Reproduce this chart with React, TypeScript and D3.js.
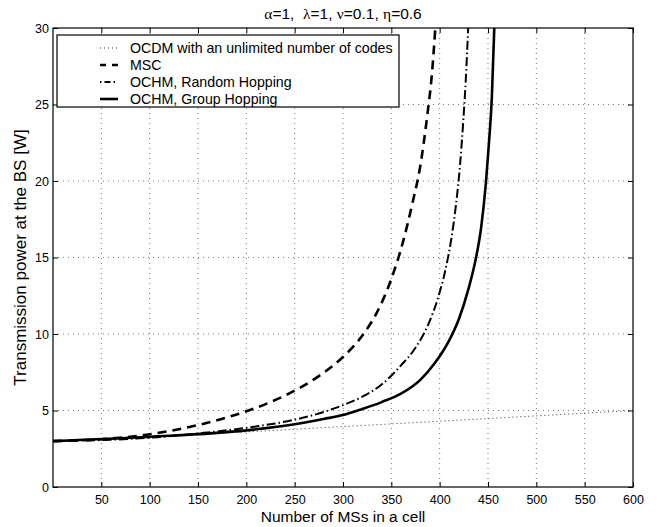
import React, { useEffect, useRef } from "react";
import * as d3 from "d3";

// axis ticks
const xTicks = [50, 100, 150, 200, 250, 300, 350, 400, 450, 500, 550, 600];
const yTicks = [0, 5, 10, 15, 20, 25, 30];

// OCDM with an unlimited number of codes
const ocdmX = [0, 100, 200, 300, 400, 500, 600];
const ocdmY = [3.0, 3.3, 3.6, 3.95, 4.3, 4.65, 5.0];

// MSC
const mscX = [0, 50, 100, 150, 200, 225, 250, 275, 300, 320, 335, 350, 362, 372, 380, 387, 392, 395.5];
const mscY = [3.0, 3.12, 3.45, 4.05, 4.95, 5.55, 6.3, 7.25, 8.5, 9.9, 11.4, 13.6, 16.0, 18.6, 21.0, 24.2, 27.0, 30];

// OCHM, Random Hopping
const rhX = [0, 100, 150, 200, 250, 280, 300, 320, 340, 360, 375, 388, 398, 406, 412, 417, 421, 424.5, 427, 429.5];
const rhY = [3.0, 3.22, 3.5, 3.87, 4.4, 4.9, 5.35, 5.9, 6.7, 7.95, 9.1, 10.6, 12.3, 14.2, 16.2, 18.5, 21.0, 24.0, 26.6, 30];

// OCHM, Group Hopping
const ghX = [0, 100, 200, 250, 280, 300, 320, 340, 360, 380, 395, 410, 420, 430, 437, 443, 448, 451, 454, 456.5];
const ghY = [3.0, 3.28, 3.7, 4.1, 4.45, 4.7, 5.1, 5.55, 6.1, 7.0, 8.1, 9.6, 11.0, 13.0, 14.8, 17.0, 20, 22.5, 25.5, 30];

const seriesNames = [
  "OCDM with an unlimited number of codes",
  "MSC",
  "OCHM, Random Hopping",
  "OCHM, Group Hopping",
];

const FONT = "'Liberation Sans', Arial, Helvetica, sans-serif";
const GREEK = "'Liberation Serif', 'DejaVu Serif', serif";

export default function App() {
  const ref = useRef<SVGSVGElement>(null);

  useEffect(() => {
    const width = 667;
    const height = 527;
    const margin = { top: 28, right: 34, bottom: 40, left: 53 };
    const innerW = width - margin.left - margin.right;
    const innerH = height - margin.top - margin.bottom;

    const svg = d3.select(ref.current);
    svg.selectAll("*").remove();

    const x = d3.scaleLinear().domain([0, 600]).range([0, innerW]);
    const y = d3.scaleLinear().domain([0, 30]).range([innerH, 0]);

    const g = svg.append("g").attr("transform", `translate(${margin.left},${margin.top})`);

    // dotted grid
    g.append("g")
      .selectAll("line")
      .data(xTicks.slice(0, -1))
      .join("line")
      .attr("x1", (d) => x(d)).attr("x2", (d) => x(d))
      .attr("y1", 0).attr("y2", innerH)
      .attr("stroke", "#777").attr("stroke-width", 1)
      .attr("stroke-dasharray", "1,4");
    g.append("g")
      .selectAll("line")
      .data(yTicks.slice(1, -1))
      .join("line")
      .attr("y1", (d) => y(d)).attr("y2", (d) => y(d))
      .attr("x1", 0).attr("x2", innerW)
      .attr("stroke", "#777").attr("stroke-width", 1)
      .attr("stroke-dasharray", "1,4");

    // curves
    svg.append("defs").append("clipPath").attr("id", "plotClip")
      .append("rect").attr("width", innerW).attr("height", innerH);

    const line = d3.line<[number, number]>()
      .x((d) => x(d[0]))
      .y((d) => y(d[1]))
      .curve(d3.curveMonotoneX);

    const styles = [
      { w: 1, dash: "1,3", legDash: "1,3", color: "#333" },
      { w: 2.6, dash: "9,6", legDash: "6,6", color: "#000" },
      { w: 2, dash: "9,3,1.5,3", legDash: "1.5,3,6,3,1.5,3", color: "#000" },
      { w: 2.6, dash: null, legDash: null, color: "#000" },
    ];
    const series: [number, number][][] = [
      ocdmX.map((v, i) => [v, ocdmY[i]]),
      mscX.map((v, i) => [v, mscY[i]]),
      rhX.map((v, i) => [v, rhY[i]]),
      ghX.map((v, i) => [v, ghY[i]]),
    ];

    const curves = g.append("g").attr("clip-path", "url(#plotClip)");
    series.forEach((s, i) => {
      curves.append("path")
        .datum(s)
        .attr("fill", "none")
        .attr("stroke", styles[i].color)
        .attr("stroke-width", styles[i].w)
        .attr("stroke-dasharray", styles[i].dash)
        .attr("d", line);
    });

    // axes box + inward ticks on all four sides
    const tickLen = 5;
    const xAxisB = d3.axisBottom(x).tickValues(xTicks).tickSizeInner(-tickLen).tickSizeOuter(0).tickPadding(8);
    const xAxisT = d3.axisTop(x).tickValues(xTicks).tickSizeInner(-tickLen).tickSizeOuter(0).tickFormat(() => "");
    const yAxisL = d3.axisLeft(y).tickValues(yTicks).tickSizeInner(-tickLen).tickSizeOuter(0).tickPadding(4);
    const yAxisR = d3.axisRight(y).tickValues(yTicks).tickSizeInner(-tickLen).tickSizeOuter(0).tickFormat(() => "");

    const axB = g.append("g").attr("transform", `translate(0,${innerH})`).call(xAxisB);
    const axT = g.append("g").call(xAxisT);
    const axL = g.append("g").call(yAxisL);
    const axR = g.append("g").attr("transform", `translate(${innerW},0)`).call(yAxisR);
    [axB, axT, axL, axR].forEach((a) => {
      a.select(".domain").remove();
      a.selectAll("line").attr("stroke", "#000");
      a.selectAll("text").attr("font-family", FONT).attr("font-size", 12.5).attr("fill", "#000");
    });

    g.append("rect")
      .attr("width", innerW).attr("height", innerH)
      .attr("fill", "none").attr("stroke", "#000").attr("stroke-width", 1.2);

    // axis labels
    svg.append("text")
      .attr("x", margin.left + innerW / 2).attr("y", 522)
      .attr("text-anchor", "middle")
      .attr("font-family", FONT).attr("font-size", 15.5)
      .text("Number of MSs in a cell");

    svg.append("text")
      .attr("transform", `translate(26,${margin.top + innerH / 2}) rotate(-90)`)
      .attr("text-anchor", "middle")
      .attr("font-family", FONT).attr("font-size", 17)
      .text("Transmission power at the BS [W]");

    // title
    const title = svg.append("text")
      .attr("x", margin.left + innerW / 2).attr("y", 19)
      .attr("text-anchor", "middle")
      .attr("font-family", FONT).attr("font-size", 15.5)
      .style("white-space", "pre");
    const parts: [string, boolean][] = [
      ["\u03b1", true], ["=1,  ", false], ["\u03bb", true], ["=1, ", false],
      ["\u03bd", true], ["=0.1, ", false], ["\u03b7", true], ["=0.6", false],
    ];
    parts.forEach(([t, greek]) => {
      title.append("tspan").attr("font-family", greek ? GREEK : FONT).text(t);
    });

    // legend
    const legX = 4, legY = 7, legW = 342, legH = 72;
    const leg = g.append("g").attr("transform", `translate(${legX},${legY})`);
    leg.append("rect")
      .attr("width", legW).attr("height", legH)
      .attr("fill", "#fff").attr("stroke", "#000").attr("stroke-width", 1.2);
    seriesNames.forEach((name, i) => {
      const cy = 13 + i * 17;
      leg.append("line")
        .attr("x1", 43).attr("x2", 61)
        .attr("y1", cy).attr("y2", cy)
        .attr("stroke", styles[i].color)
        .attr("stroke-width", styles[i].w)
        .attr("stroke-dasharray", styles[i].legDash);
      leg.append("text")
        .attr("x", 73).attr("y", cy)
        .attr("dy", "0.35em")
        .attr("font-family", FONT).attr("font-size", 14.2)
        .text(name);
    });
  }, []);

  return (
    <svg
      ref={ref}
      width={667}
      height={527}
      style={{ position: "absolute", left: 0, top: 0, background: "#fff" }}
    />
  );
}
